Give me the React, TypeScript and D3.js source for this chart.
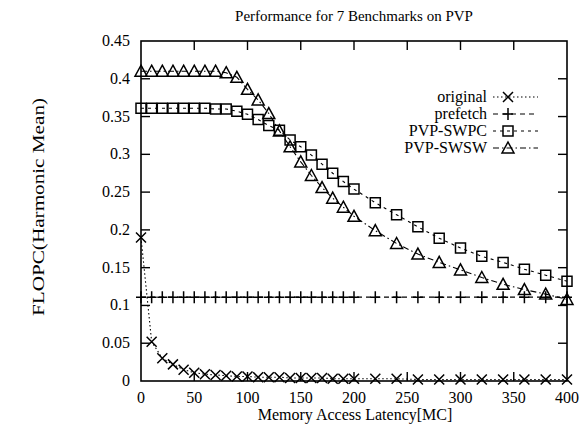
import { useEffect, useRef } from "react"
import { select, scaleLinear, line } from "d3"

// data
const latency = [0, 10, 20, 30, 40, 50, 60, 70, 80, 90, 100, 110, 120, 130, 140, 150, 160, 170, 180, 190, 200, 220, 240, 260, 280, 300, 320, 340, 360, 380, 400]
const original = [0.19, 0.052, 0.03, 0.022, 0.015, 0.011, 0.009, 0.008, 0.007, 0.006, 0.006, 0.005, 0.005, 0.005, 0.004, 0.004, 0.004, 0.004, 0.003, 0.003, 0.003, 0.003, 0.003, 0.002, 0.002, 0.002, 0.002, 0.002, 0.002, 0.002, 0.002]
const prefetch = [0.111, 0.111, 0.111, 0.111, 0.111, 0.111, 0.111, 0.111, 0.111, 0.111, 0.111, 0.111, 0.111, 0.111, 0.111, 0.111, 0.111, 0.111, 0.111, 0.111, 0.111, 0.111, 0.111, 0.111, 0.111, 0.111, 0.111, 0.111, 0.111, 0.111, 0.111]
const pvpSwpc = [0.361, 0.361, 0.361, 0.361, 0.361, 0.361, 0.361, 0.36, 0.36, 0.357, 0.353, 0.346, 0.338, 0.332, 0.319, 0.31, 0.299, 0.287, 0.275, 0.264, 0.254, 0.236, 0.22, 0.204, 0.189, 0.176, 0.165, 0.157, 0.148, 0.14, 0.132]
const pvpSwsw = [0.41, 0.41, 0.41, 0.41, 0.41, 0.41, 0.41, 0.41, 0.408, 0.402, 0.386, 0.372, 0.354, 0.331, 0.31, 0.29, 0.272, 0.256, 0.242, 0.23, 0.218, 0.199, 0.182, 0.168, 0.157, 0.147, 0.137, 0.128, 0.121, 0.115, 0.108]

const xTicks = [0, 50, 100, 150, 200, 250, 300, 350, 400]
const yTicks = [0, 0.05, 0.1, 0.15, 0.2, 0.25, 0.3, 0.35, 0.4, 0.45]

const seriesNames = ["original", "prefetch", "PVP-SWPC", "PVP-SWSW"]
const seriesValues = [original, prefetch, pvpSwpc, pvpSwsw]

const FONT = "'Liberation Serif', 'DejaVu Serif', serif"

// marker shapes, centred on 0,0
const markerPath = {
    original: "M-5,-5L5,5M-5,5L5,-5",
    prefetch: "M-5,0H5M0,-6V6",
    "PVP-SWPC": "M-5,-5H5V5H-5Z",
    "PVP-SWSW": "M0,-6L6,5H-6Z",
}
const dashes = {
    original: "1.5,2.5",
    prefetch: "5,4",
    "PVP-SWPC": "3,4",
    "PVP-SWSW": "6,3,1.5,3",
}

export default function App() {
    const svgRef = useRef(null)

    useEffect(() => {
        const svg = select(svgRef.current)
        svg.selectAll("*").remove()

        const x = scaleLinear([0, 400], [141, 567])
        const y = scaleLinear([0, 0.45], [381, 41])

        // title
        svg.append("text")
            .attr("x", 354).attr("y", 21)
            .attr("text-anchor", "middle")
            .attr("font-family", FONT).attr("font-size", 15)
            .text("Performance for 7 Benchmarks on PVP")

        // frame
        svg.append("rect")
            .attr("x", x(0)).attr("y", y(0.45))
            .attr("width", x(400) - x(0)).attr("height", y(0) - y(0.45))
            .attr("fill", "none").attr("stroke", "#000").attr("stroke-width", 1.6)

        // ticks, inward on all four sides
        const tickLen = 9
        const ticks = svg.append("g").attr("stroke", "#000").attr("stroke-width", 1.4)
        xTicks.slice(1, -1).forEach(t => {
            ticks.append("line").attr("x1", x(t)).attr("x2", x(t)).attr("y1", y(0)).attr("y2", y(0) - tickLen)
            ticks.append("line").attr("x1", x(t)).attr("x2", x(t)).attr("y1", y(0.45)).attr("y2", y(0.45) + tickLen)
        })
        yTicks.slice(1, -1).forEach(t => {
            ticks.append("line").attr("x1", x(0)).attr("x2", x(0) + tickLen).attr("y1", y(t)).attr("y2", y(t))
            ticks.append("line").attr("x1", x(400)).attr("x2", x(400) - tickLen).attr("y1", y(t)).attr("y2", y(t))
        })

        svg.append("g").selectAll("text")
            .data(xTicks).join("text")
            .attr("x", d => x(d)).attr("y", 403)
            .attr("text-anchor", "middle")
            .attr("font-family", FONT).attr("font-size", 16)
            .text(d => `${d}`)

        svg.append("g").selectAll("text")
            .data(yTicks).join("text")
            .attr("x", 130).attr("y", d => y(d) + 5)
            .attr("text-anchor", "end")
            .attr("font-family", FONT).attr("font-size", 16)
            .text(d => d === 0 ? "0" : `${+d.toFixed(2)}`)

        // axis titles
        svg.append("text")
            .attr("x", 355).attr("y", 420)
            .attr("text-anchor", "middle")
            .attr("font-family", FONT).attr("font-size", 16)
            .text("Memory Access Latency[MC]")

        svg.append("text")
            .attr("transform", "translate(44,207) rotate(-90)")
            .attr("text-anchor", "middle")
            .attr("font-family", FONT).attr("font-size", 16)
            .attr("textLength", 218).attr("lengthAdjust", "spacingAndGlyphs")
            .text("FLOPC(Harmonic Mean)")

        // series
        seriesNames.forEach((name, s) => {
            const values = seriesValues[s]
            const pts = latency.map((l, i) => [x(l), y(values[i])])
            svg.append("path")
                .attr("fill", "none").attr("stroke", "#000").attr("stroke-width", 1.1)
                .attr("stroke-dasharray", dashes[name])
                .attr("d", line()(pts))
            svg.append("g").selectAll("path")
                .data(pts).join("path")
                .attr("transform", d => `translate(${d[0]},${d[1]})`)
                .attr("d", markerPath[name])
                .attr("fill", "none").attr("stroke", "#000").attr("stroke-width", 1.5)
        })

        // legend
        const legend = svg.append("g")
        seriesNames.forEach((name, i) => {
            const ly = 97 + i * 17
            legend.append("text")
                .attr("x", 487).attr("y", ly + 5)
                .attr("text-anchor", "end")
                .attr("font-family", FONT).attr("font-size", 16)
                .text(name)
            legend.append("line")
                .attr("x1", 493).attr("x2", 538).attr("y1", ly).attr("y2", ly)
                .attr("stroke", "#000").attr("stroke-width", 1.1)
                .attr("stroke-dasharray", dashes[name])
            legend.append("path")
                .attr("transform", `translate(508,${ly})`)
                .attr("d", markerPath[name])
                .attr("fill", "none").attr("stroke", "#000").attr("stroke-width", 1.5)
        })
    }, [])

    return <svg ref={svgRef} width={585} height={439}
        style={{ position: "absolute", left: 0, top: 0, background: "#fff" }} />
}
